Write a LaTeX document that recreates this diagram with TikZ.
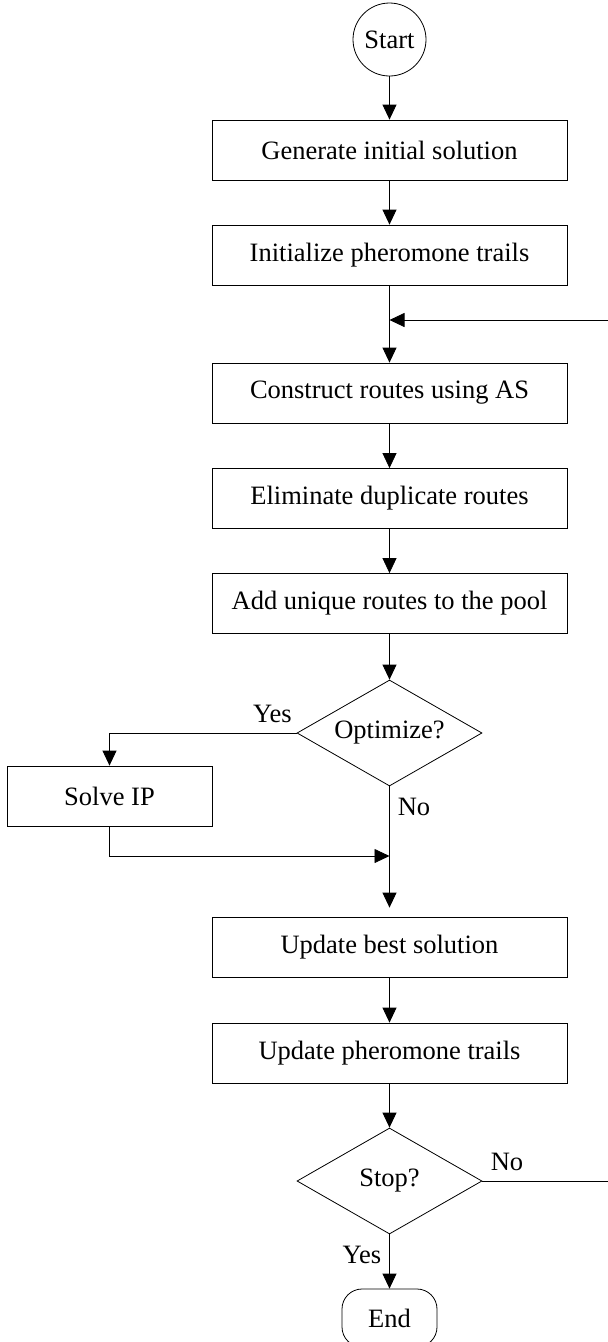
\documentclass[tikz,border=0pt]{standalone}
\usepackage{fontspec}
\setmainfont{Liberation Serif}
\usetikzlibrary{shapes.geometric,arrows.meta}
\begin{document}
\begin{tikzpicture}[x=1pt,y=-1pt,
  font=\fontsize{26.5}{30}\selectfont,
  every path/.style={line width=0.8pt},
  box/.style={draw, rectangle, minimum width=355pt, minimum height=60pt, inner sep=0pt},
  smallbox/.style={draw, rectangle, minimum width=205pt, minimum height=60pt, inner sep=0pt},
  dia/.style={draw, diamond, aspect=1.745, minimum width=185pt, minimum height=106pt, inner sep=0pt},
  term/.style={draw, rectangle, rounded corners=20pt, minimum width=95pt, minimum height=58pt, inner sep=0pt},
  startc/.style={draw, circle, minimum size=73pt, inner sep=0pt},
  lbl/.style={inner sep=0pt, anchor=base},
  arr/.style={-{Triangle[length=15pt,width=14pt]}},
]
\useasboundingbox (0,0) rectangle (608,1342);

\node[startc] (start) at (389.5,39.5) {Start};
\node[box] (gen)  at (389.5,150) {Generate initial solution};
\node[box] (init) at (389.5,255) {Initialize pheromone trails};
\node[box] (cons) at (389.5,393) {Construct routes using AS};
\node[box] (elim) at (389.5,498.5) {Eliminate duplicate routes};
\node[box] (add)  at (389.5,603.5) {Add unique routes to the pool};
\node[dia] (opt)  at (389.5,733) {Optimize?};
\node[smallbox] (solve) at (109.5,796) {Solve IP};
\node[box] (best) at (389.5,947) {Update best solution};
\node[box] (upd)  at (389.5,1053) {Update pheromone trails};
\node[dia] (stop) at (389.5,1181) {Stop?};
\node[term] (endn) at (389.5,1318) {End};

\node[lbl] (yes1) at (272.5,722) {Yes};
\node[lbl] (no1)  at (414,815) {No};
\node[lbl] (no2)  at (507,1170) {No};
\node[lbl] (yes2) at (362,1263) {Yes};

\coordinate (j1) at (389.5,320);
\coordinate (r1) at (608,320);
\coordinate (j2) at (389.5,856);
\coordinate (r2) at (608,1181);

\draw[arr] (start) -- (gen);
\draw[arr] (gen) -- (init);
\draw[arr] (init) -- (cons);
\draw[arr] (r1) -- (j1);
\draw[arr] (cons) -- (elim);
\draw[arr] (elim) -- (add);
\draw[arr] (add) -- (opt);
\draw[arr] (opt.west) -| (solve.north);
\draw[arr] (solve.south) |- (j2);
\draw[arr, shorten >=9pt] (opt.south) -- (best.north);
\draw[arr] (best) -- (upd);
\draw[arr] (upd) -- (stop);
\draw[arr] (stop) -- (endn);
\draw (stop.east) -- (r2);
\end{tikzpicture}
\end{document}
